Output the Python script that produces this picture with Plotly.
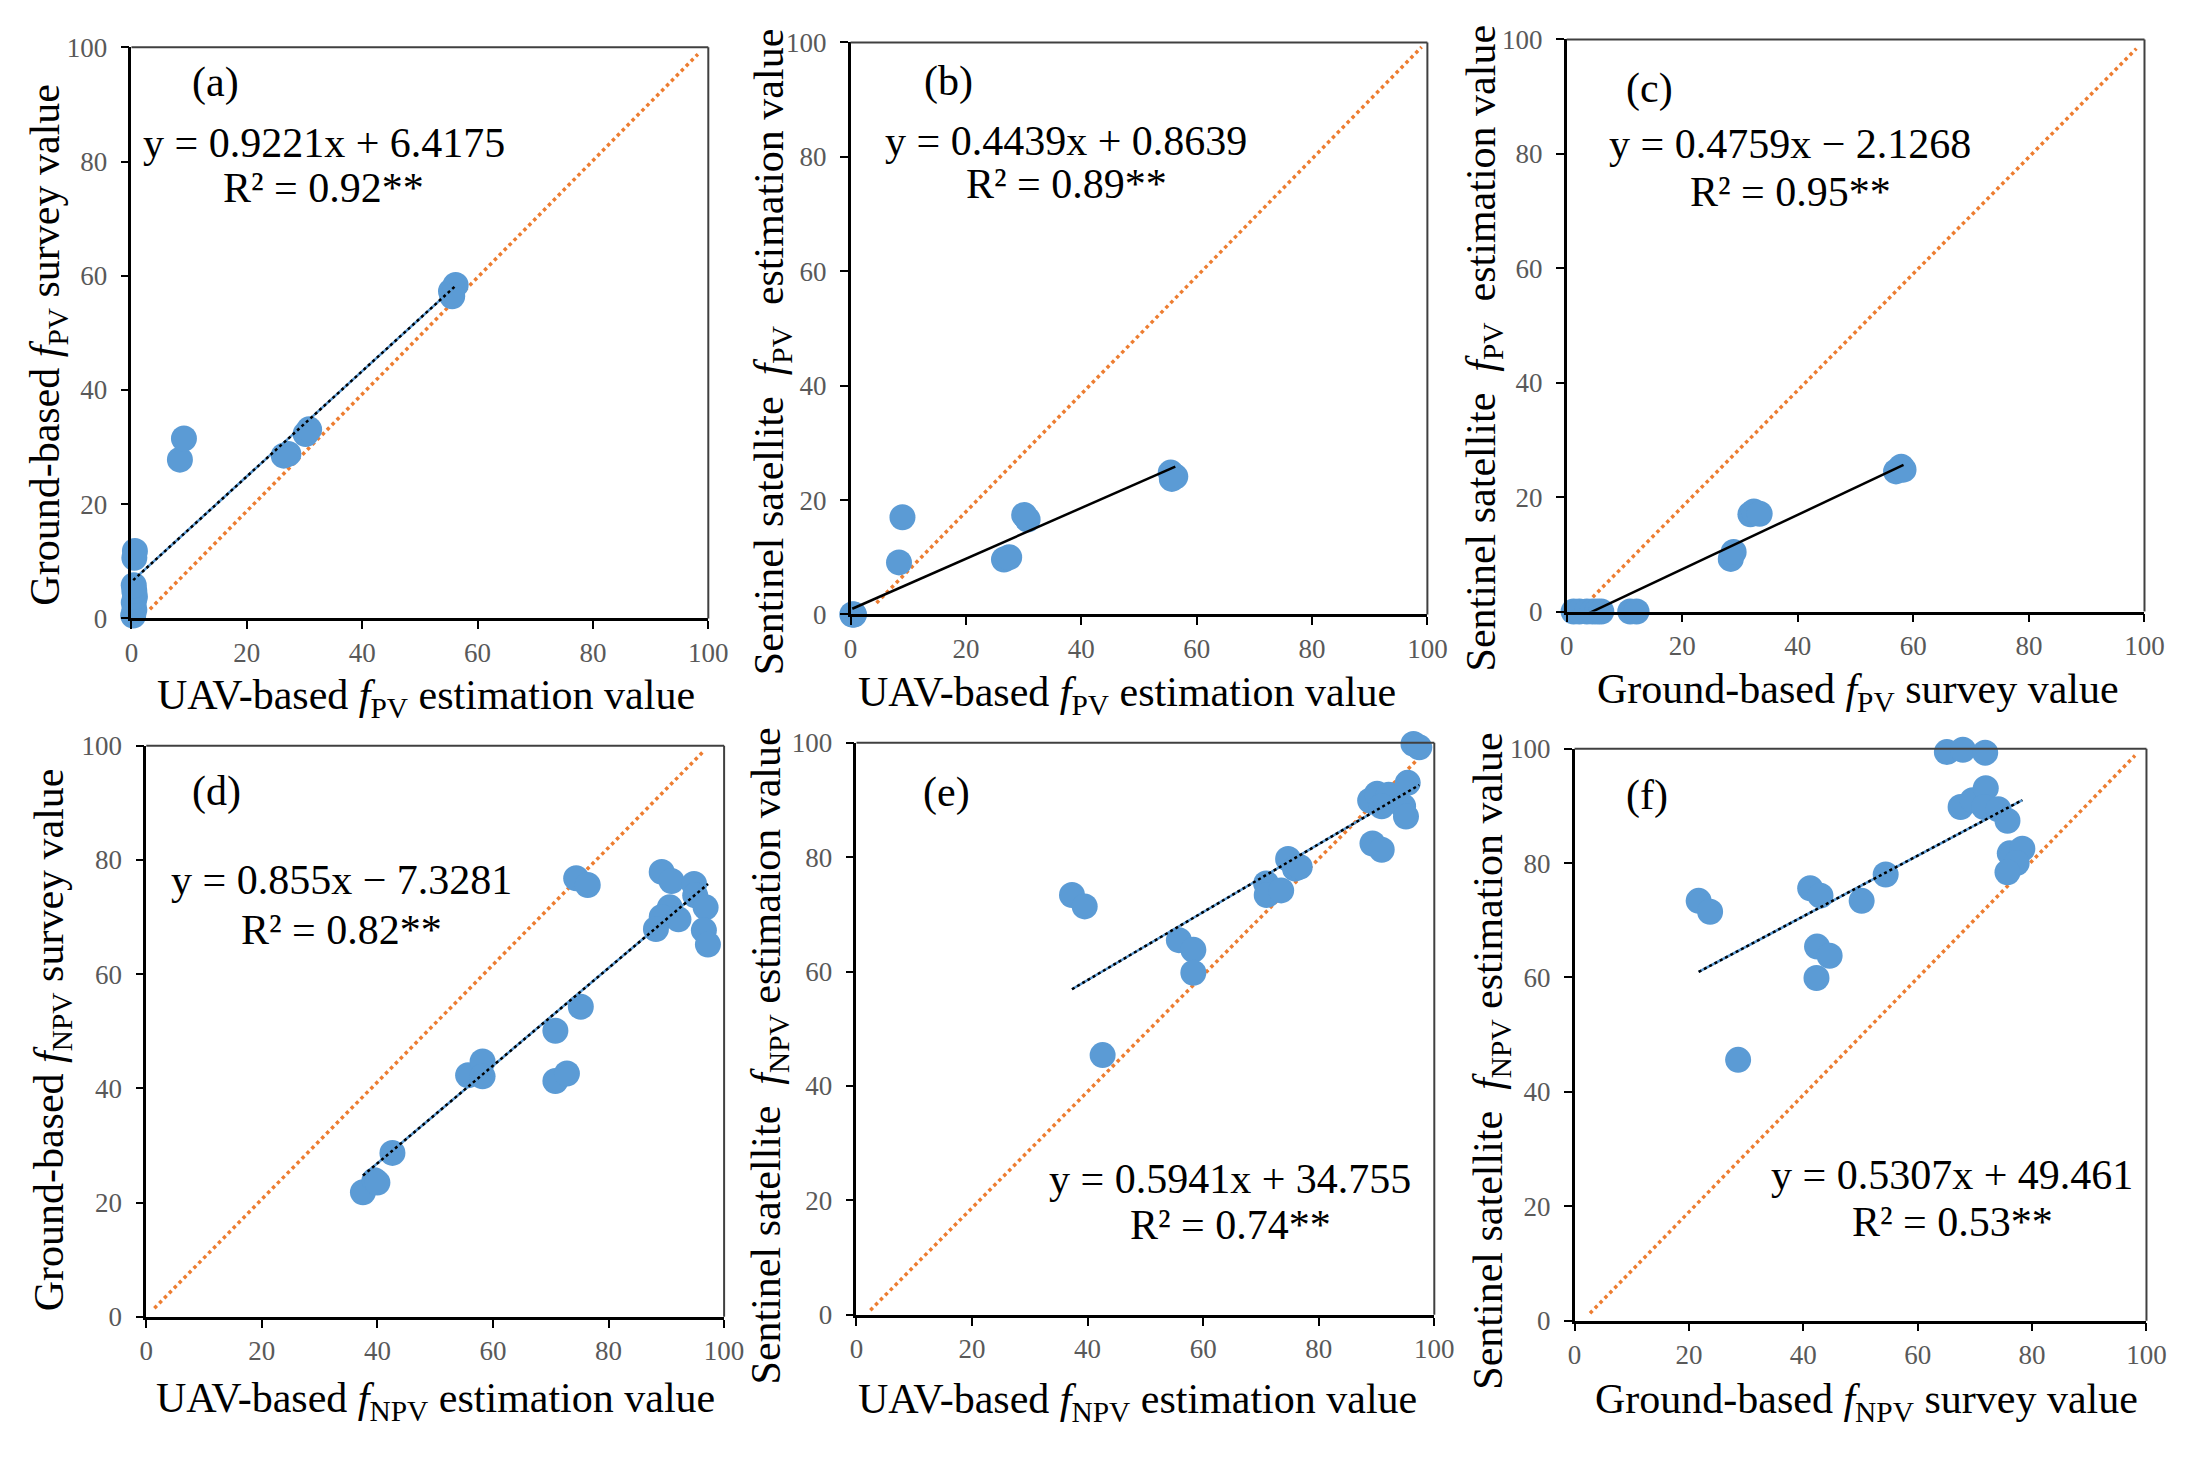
import plotly.graph_objects as go

# ---- data ----
# (a) UAV-based fPV vs ground-based fPV
a_x = [0.3, 0.5, 0.4, 0.6, 0.5, 0.4, 0.5, 0.6, 8.4, 9.1, 26.4, 27.2, 30.2, 30.8, 55.4, 56.2, 55.6]
a_y = [0.5, 1.5, 2.8, 3.8, 4.8, 5.8, 10.6, 11.8, 27.8, 31.5, 28.5, 28.8, 32.3, 33.1, 57.3, 58.4, 56.4]
# (b) UAV-based fPV vs Sentinel fPV
b_x = [0.3, 0.5, 0.6, 8.4, 9.0, 26.6, 27.5, 30.1, 30.7, 55.5, 56.3, 55.7]
b_y = [0.0, 0.0, 0.0, 9.1, 17.0, 9.6, 10.0, 17.4, 16.6, 24.8, 24.1, 23.7]
# (c) ground-based fPV vs Sentinel fPV
c_x = [1.2, 2.2, 3.5, 4.5, 5.3, 6.0, 11.0, 12.1, 28.4, 28.9, 31.8, 32.4, 33.4, 57.0, 57.9, 58.3]
c_y = [0.0, 0.0, 0.0, 0.0, 0.0, 0.0, 0.0, 0.0, 9.2, 10.4, 17.0, 17.5, 17.1, 24.5, 25.3, 24.8]
# (d) UAV-based fNPV vs ground-based fNPV
d_x = [37.5, 39.5, 40.0, 42.6, 55.7, 58.2, 58.2, 70.8, 70.8, 72.8, 75.2, 74.4, 76.4,
       89.2, 90.9, 94.8, 95.0, 96.8, 90.6, 89.2, 92.1, 88.2, 96.5, 97.2]
d_y = [21.8, 23.9, 23.5, 28.7, 42.3, 44.7, 42.1, 50.1, 41.3, 42.6, 54.3, 76.8, 75.6,
       77.9, 76.3, 75.8, 73.8, 71.7, 71.7, 70.0, 69.6, 67.9, 67.7, 65.2]
# (e) UAV-based fNPV vs Sentinel fNPV
e_x = [37.3, 39.5, 42.6, 55.8, 58.3, 58.3, 70.9, 71.0, 73.5, 74.7, 75.9, 76.7,
       88.9, 90.1, 92.1, 90.9, 89.3, 90.9, 95.4, 94.6, 95.1, 96.4, 97.4]
e_y = [73.4, 71.4, 45.4, 65.5, 63.8, 59.8, 75.4, 73.4, 74.2, 79.7, 78.0, 78.3,
       89.9, 91.1, 90.9, 88.9, 82.4, 81.3, 93.0, 88.9, 87.1, 99.8, 99.2]
# (f) ground-based fNPV vs Sentinel fNPV
f_x = [21.7, 23.7, 28.6, 41.2, 43.0, 42.4, 44.6, 42.3, 50.2, 54.4, 65.1, 67.9,
       71.8, 67.5, 69.6, 71.9, 71.6, 74.1, 75.7, 76.1, 78.3, 77.3, 75.7]
f_y = [73.4, 71.5, 45.6, 75.6, 74.3, 65.4, 63.8, 59.9, 73.4, 78.0, 99.4, 99.8,
       99.3, 89.8, 91.0, 93.1, 89.8, 89.4, 87.4, 81.7, 82.5, 80.0, 78.4]

# fitted line coefficients shown in each panel
slopes = [0.9221, 0.4439, 0.4759, 0.855, 0.5941, 0.5307]
intercepts = [6.4175, 0.8639, -2.1268, -7.3281, 34.755, 49.461]
equations = ["y = 0.9221x + 6.4175", "y = 0.4439x + 0.8639", "y = 0.4759x \u2212 2.1268",
             "y = 0.855x \u2212 7.3281", "y = 0.5941x + 34.755", "y = 0.5307x + 49.461"]
r2_texts = ["R\u00b2 = 0.92**", "R\u00b2 = 0.89**", "R\u00b2 = 0.95**",
            "R\u00b2 = 0.82**", "R\u00b2 = 0.74**", "R\u00b2 = 0.53**"]
panel_labels = ["(a)", "(b)", "(c)", "(d)", "(e)", "(f)"]

# 1:1 reference line end points
ref_x = [[3.2, 98.2], [4.5, 99.0], [4.5, 98.6], [1.4, 96.6], [2.4, 97.0], [2.7, 98.0]]
ref_y = [[1.6, 98.8], [2.0, 99.2], [2.5, 98.4], [1.5, 99.2], [0.8, 97.0], [1.3, 98.8]]

sp = "\u00a0"
x_titles = ["UAV-based <i>f</i><sub>PV</sub> estimation value",
            "UAV-based <i>f</i><sub>PV</sub> estimation value",
            "Ground-based <i>f</i><sub>PV</sub> survey value",
            "UAV-based <i>f</i><sub>NPV</sub> estimation value",
            "UAV-based <i>f</i><sub>NPV</sub> estimation value",
            "Ground-based <i>f</i><sub>NPV</sub> survey value"]
y_titles = ["Ground-based <i>f</i><sub>PV</sub> survey value",
            "Sentinel satellite" + sp + " <i>f</i><sub>PV</sub>" + sp + " estimation value",
            "Sentinel satellite" + sp + " <i>f</i><sub>PV</sub>" + sp + " estimation value",
            "Ground-based <i>f</i><sub>NPV</sub> survey value",
            "Sentinel satellite" + sp + " <i>f</i><sub>NPV</sub> estimation value",
            "Sentinel satellite" + sp + " <i>f</i><sub>NPV</sub> estimation value"]

xs = [a_x, b_x, c_x, d_x, e_x, f_x]
ys = [a_y, b_y, c_y, d_y, e_y, f_y]

# ---- layout geometry ----
W, H = 2204, 1465
# plot areas in pixels: (left, right, top, bottom)
boxes = [(126, 710, 33, 616), (854, 1438, 28, 612), (1579, 2164, 25, 609),
         (141, 726, 746, 1329), (860, 1445, 743, 1327), (1587, 2166, 749, 1333)]
label_pos = [(14.6, 93.8), (16.9, 93.1), (14.3, 91.4), (12.1, 91.9), (15.6, 91.3), (12.7, 91.9)]
eq_pos = [(33.3, 83.2, 75.3), (37.4, 82.8, 75.3), (38.7, 81.7, 73.3),
          (33.8, 76.4, 67.8), (64.7, 23.8, 15.7), (66.0, 25.5, 17.3)]
ytitle_pos = [(-0.144, 0.48), (-0.135, 0.458), (-0.143, 0.46),
              (-0.164, 0.485), (-0.151, 0.452), (-0.146, 0.453)]
xtitle_pos = [(0.51, -0.14), (0.48, -0.14), (0.505, -0.14),
              (0.50, -0.147), (0.486, -0.152), (0.51, -0.142)]
dotted_trend = [True, False, False, True, True, True]

FONT = "Liberation Serif"
BLUE = "#5B9BD5"
ORANGE = "#ED7D31"
TXT = 42

fig = go.Figure()
layout = dict(width=W, height=H, margin=dict(l=0, r=0, t=0, b=0),
              paper_bgcolor="white", plot_bgcolor="white", showlegend=False,
              font=dict(family=FONT, color="black"))
annotations = []
shapes = []

for i in range(6):
    n = "" if i == 0 else str(i + 1)
    xa, ya = "x" + n, "y" + n
    l, r, t, b = boxes[i]
    axis_common = dict(range=[0, 100], dtick=20, showgrid=False, zeroline=False,
                       showline=True, linecolor="black", linewidth=2.5,
                       ticks="outside", ticklen=8, tickwidth=2, tickcolor="black",
                       tickfont=dict(family=FONT, size=27, color="#595959"))
    layout["xaxis" + n] = dict(axis_common, domain=[l / W, r / W], anchor=ya)
    layout["yaxis" + n] = dict(axis_common, domain=[1 - b / H, 1 - t / H], anchor=xa,
                               ticklabelstandoff=8)

    # 1:1 line
    fig.add_trace(go.Scatter(x=ref_x[i], y=ref_y[i], mode="lines", xaxis=xa, yaxis=ya,
                             line=dict(color=ORANGE, width=3.5, dash="dot")))
    # samples
    fig.add_trace(go.Scatter(x=xs[i], y=ys[i], mode="markers", xaxis=xa, yaxis=ya,
                             cliponaxis=False,
                             marker=dict(color=BLUE, size=26, line=dict(width=0))))
    # fitted line
    x0, x1 = min(xs[i]), max(xs[i])
    tx = [x0, x1]
    ty = [slopes[i] * x0 + intercepts[i], slopes[i] * x1 + intercepts[i]]
    if dotted_trend[i]:
        fig.add_trace(go.Scatter(x=tx, y=ty, mode="lines", xaxis=xa, yaxis=ya,
                                 line=dict(color=BLUE, width=2.5)))
        fig.add_trace(go.Scatter(x=tx, y=ty, mode="lines", xaxis=xa, yaxis=ya,
                                 line=dict(color="black", width=2.5, dash="dot")))
    else:
        fig.add_trace(go.Scatter(x=tx, y=ty, mode="lines", xaxis=xa, yaxis=ya,
                                 line=dict(color="black", width=2.5)))

    # dark grey top and right frame
    shapes.append(dict(type="line", xref=xa + " domain", yref=ya + " domain",
                       x0=0, x1=1, y0=1, y1=1, line=dict(color="#404040", width=2)))
    shapes.append(dict(type="line", xref=xa + " domain", yref=ya + " domain",
                       x0=1, x1=1, y0=0, y1=1, line=dict(color="#404040", width=2)))

    # panel letter and fit text
    annotations.append(dict(x=label_pos[i][0], y=label_pos[i][1], xref=xa, yref=ya,
                            text=panel_labels[i], showarrow=False,
                            font=dict(size=TXT, family=FONT, color="black")))
    annotations.append(dict(x=eq_pos[i][0], y=eq_pos[i][1], xref=xa, yref=ya,
                            text=equations[i], showarrow=False,
                            font=dict(size=TXT, family=FONT, color="black")))
    annotations.append(dict(x=eq_pos[i][0], y=eq_pos[i][2], xref=xa, yref=ya,
                            text=r2_texts[i], showarrow=False,
                            font=dict(size=TXT, family=FONT, color="black")))

    # axis titles
    annotations.append(dict(x=xtitle_pos[i][0], y=xtitle_pos[i][1],
                            xref=xa + " domain", yref=ya + " domain",
                            text=x_titles[i], showarrow=False, yanchor="middle",
                            font=dict(size=TXT, family=FONT, color="black")))
    annotations.append(dict(x=ytitle_pos[i][0], y=ytitle_pos[i][1],
                            xref=xa + " domain", yref=ya + " domain",
                            text=y_titles[i], showarrow=False, textangle=-90,
                            xanchor="center", yanchor="middle",
                            font=dict(size=TXT, family=FONT, color="black")))

layout["annotations"] = annotations
layout["shapes"] = shapes
fig.update_layout(**layout)

# keep the figure flush with the page corner, no toolbar
fig.write_html("out.html", config={"displayModeBar": False},
               post_script="document.body.style.margin = '0';")
